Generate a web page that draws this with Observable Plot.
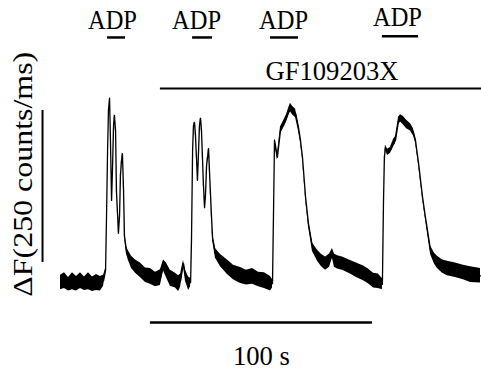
<!DOCTYPE html>
<html>
<head>
<meta charset="utf-8">
<script src="https://cdn.jsdelivr.net/npm/d3@7"></script>
<script src="https://cdn.jsdelivr.net/npm/@observablehq/plot@0.6"></script>
<style>
  html, body { margin: 0; padding: 0; background: #fff; }
  svg { display: block; }
</style>
</head>
<body>
<div id="chart"></div>
<script>
// Time (s) and fluorescence change ΔF (counts/ms)
const time = [0,1.8,3.6,5.4,7.2,9.0,10.8,12.6,14.4,16.2,18.0,19.4,20.3,20.7,21.2,21.6,22.1,22.5,23.0,23.4,23.9,24.3,24.8,25.2,26.1,26.6,27.0,27.5,27.9,28.4,28.8,29.7,30.6,32.0,33.8,36.0,38.3,40.5,42.8,45.0,46.4,47.7,49.5,51.8,53.2,54.1,55.0,55.4,56.3,57.7,58.6,59.0,59.5,59.9,60.4,60.8,61.7,62.2,62.6,63.1,63.5,64.4,64.9,65.3,65.8,66.7,67.1,68.0,68.5,69.8,72.1,75.2,77.9,81.1,83.8,86.5,89.2,91.9,94.6,95.5,95.9,96.4,96.8,97.7,99.1,100.5,101.8,102.7,103.6,104.5,105.9,107.2,108.1,109.0,110.4,111.7,113.5,115.8,117.6,119.4,121.2,122.5,123.4,124.8,127.0,130.6,133.3,136.5,138.7,141.0,143.2,145.0,145.5,145.9,146.4,147.3,148.6,150.0,150.9,152.3,153.2,154.5,155.9,157.7,159.0,159.9,161.3,163.1,164.4,165.3,166.7,168.5,169.8,172.1,174.3,177.9,181.5,184.7,189.2];
const dF = [0,3,-3,2,-2,3,-2,2,-3,0,-2,3,20,102,217,283,303,234,135,184,258,275,250,151,81,110,176,201,212,151,77,53,44,33,26,20,12,10,5,8,28,20,7,3,-2,3,23,31,11,-2,0,69,217,258,263,242,168,217,258,270,250,160,123,143,192,220,184,110,74,48,36,25,16.5,11.5,8,10,5,3,-2,-2,102,234,226,206,250,260,270,280,288,283,278,255,234,206,140,97,58,44,36,31,36,48,36,33,31,25,20,15,10,3,2,-3,135,206,222,214,217,229,234,266,270,266,260,255,247,234,196,140,107,86,53,39,33,26,23,20,16.5,13,11];
// Half-width of the noise band around the trace (counts/ms)
const noise = [12,13,11,14,12,13,11,14,12,13,12,9,3,1,1,1,1,1,2,2,2,2,2,2,2,2,2,2,2,2,3,6,8,10,11,12,12,13,12,13,9,12,13,12,13,11,7,5,9,11,7,1,1,1,2,2,2,2,2,2,2,2,2,2,2,2,2,3,5,8,10,12,12,13,12,13,12,13,12,7,1,2,5,5,6,6,6,6,7,7,7,6,4,3,3,5,7,9,10,11,11,8,11,11,11,11,12,12,12,12,12,9,1,2,4,5,5,6,6,6,6,7,7,6,6,4,3,3,3,5,7,9,10,11,12,12,12,13,12];

// Annotations
const adpLabel = ["ADP","ADP","ADP","ADP"];
const adpTextTime = [23.4, 61.3, 100.5, 151.8];
const adpTextLevel = [432, 432, 432, 436];
const adpStart = [21.2, 59.5, 94.6, 145.0];
const adpEnd = [29.3, 68.5, 107.2, 161.3];
const adpBarLevel = [403, 403, 403, 405];
const drugLabel = "GF109203X";
const drugStart = 45.0, drugEnd = 189.64, drugLevel = 319, drugTextTime = 122.3, drugTextLevel = 347;
const timeBar = {start: 40.5, length: 100, level: -66, label: "100 s", labelLevel: -121};
const ampBar = {time: -8.1, base: 33, length: 250, label: "ΔF(250 counts/ms)", labelTime: -17, labelLevel: 178};
// Printed widths of the labels in the figure (px)
const labelWidth = {"ADP": 49, "GF109203X": 133, "100 s": 57, "ΔF(250 counts/ms)": 245};

const trace = time.map((t, i) => ({t, v: dF[i], lo: dF[i] - noise[i], hi: dF[i] + noise[i]}));
const adp = adpLabel.map((l, i) => ({l, tt: adpTextTime[i], tv: adpTextLevel[i], s: adpStart[i], e: adpEnd[i], bv: adpBarLevel[i]}));
const serif = "Liberation Serif, Times New Roman, serif";

const chart = Plot.plot({
  width: 481,
  height: 373,
  margin: 0,
  x: {domain: [-27.03, 189.64], axis: null},
  y: {domain: [-149.7, 463.8], axis: null},
  style: {background: "white"},
  marks: [
    Plot.areaY(trace, {x: "t", y1: "lo", y2: "hi", fill: "#000"}),
    Plot.line(trace, {x: "t", y: "v", stroke: "#000", strokeWidth: 1.3}),
    // ADP application bars and labels
    Plot.ruleY(adp, {y: "bv", x1: "s", x2: "e", stroke: "#000", strokeWidth: 2.5}),
    Plot.text(adp, {x: "tt", y: "tv", text: "l", fontSize: 28, fontFamily: serif, fill: "#000"}),
    // GF109203X bar
    Plot.ruleY([drugLevel], {x1: drugStart, x2: drugEnd, stroke: "#000", strokeWidth: 2}),
    Plot.text([drugLabel], {x: drugTextTime, y: drugTextLevel, text: d => d, fontSize: 28, fontFamily: serif, fill: "#000"}),
    // time scale bar
    Plot.ruleY([timeBar.level], {x1: timeBar.start, x2: timeBar.start + timeBar.length, stroke: "#000", strokeWidth: 2.5}),
    Plot.text([timeBar.label], {x: timeBar.start + timeBar.length / 2, y: timeBar.labelLevel, text: d => d, fontSize: 28, fontFamily: serif, fill: "#000"}),
    // amplitude scale bar
    Plot.ruleX([ampBar.time], {y1: ampBar.base, y2: ampBar.base + ampBar.length, stroke: "#000", strokeWidth: 2}),
    Plot.text([ampBar.label], {x: ampBar.labelTime, y: ampBar.labelLevel, text: d => d, rotate: -90, fontSize: 28, fontFamily: serif, fill: "#000"})
  ]
});
d3.select(chart).selectAll("text").each(function () {
  const w = labelWidth[this.textContent];
  if (w) d3.select(this).attr("textLength", w).attr("lengthAdjust", "spacingAndGlyphs");
});
document.getElementById("chart").appendChild(chart);
</script>
</body>
</html>
